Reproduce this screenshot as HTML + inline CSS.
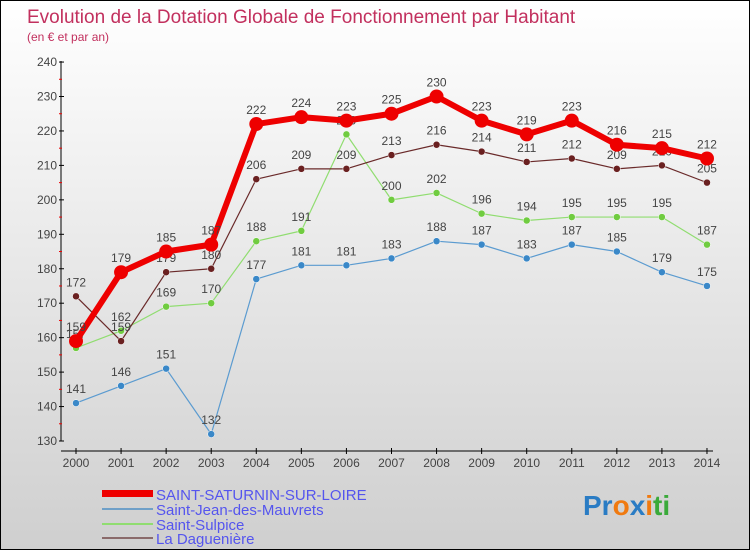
<!DOCTYPE html>
<html><head><meta charset="utf-8"><style>
html,body{margin:0;padding:0}
body{width:750px;height:550px;overflow:hidden;font-family:"Liberation Sans",sans-serif}
#wrap{position:relative;width:748px;height:548px;border:1px solid #000;background:linear-gradient(#ffffff,#cfcfcf)}
</style></head><body>
<div id="wrap">
<svg id="chart" width="748" height="548" style="position:absolute;left:0;top:0">
<text x="26" y="22" font-size="19" fill="#c2305e">Evolution de la Dotation Globale de Fonctionnement par Habitant</text>
<text x="26" y="40" font-size="12" fill="#c2305e">(en € et par an)</text>
<g id="axes"></g><g id="series"></g>
<g font-size="15" fill="#5555ee">
<rect x="101" y="489" width="51" height="7" fill="#ee0000"/>
<text x="155" y="499">SAINT-SATURNIN-SUR-LOIRE</text>
<rect x="101" y="507" width="51" height="2" fill="#6fa0c8"/>
<text x="155" y="514">Saint-Jean-des-Mauvrets</text>
<rect x="101" y="522" width="51" height="2" fill="#90dd70"/>
<text x="155" y="529">Saint-Sulpice</text>
<rect x="101" y="536" width="51" height="2" fill="#8a6a6a"/>
<text x="155" y="543">La Daguenière</text>
</g>
<g font-size="28" font-weight="bold">
<text x="582" y="514"><tspan fill="#2a7cc4">Pr</tspan><tspan fill="#f07a10">o</tspan><tspan fill="#2a7cc4">x</tspan><tspan fill="#f07a10">i</tspan><tspan fill="#3aaa3a">ti</tspan></text>
</g>
</svg>
</div>
<script>
const years=[2000,2001,2002,2003,2004,2005,2006,2007,2008,2009,2010,2011,2012,2013,2014];
const yTicks=[130,140,150,160,170,180,190,200,210,220,230,240];
const saturnin=[159,179,185,187,222,224,223,225,230,223,219,223,216,215,212];
const jean=[141,146,151,132,177,181,181,183,188,187,183,187,185,179,175];
const sulpice=[157,162,169,170,188,191,219,200,202,196,194,195,195,195,187];
const daguen=[172,159,179,180,206,209,209,213,216,214,211,212,209,210,205];
const NS="http://www.w3.org/2000/svg";
function X(i){return 75+i*45.07;}
function Y(v){return 440-(v-130)*3.445;}
function el(t,a,p){const e=document.createElementNS(NS,t);for(const k in a)e.setAttribute(k,a[k]);p.appendChild(e);return e;}
const ax=document.getElementById('axes');
const yl=el('line',{x1:60,y1:60,x2:60,y2:440,stroke:'#000','stroke-width':1},ax);


const xl=el('line',{x1:60,y1:450,x2:712,y2:450,stroke:'#000','stroke-width':1},ax);


yTicks.forEach((v,i)=>{
 el('line',{x1:58,y1:Y(v),x2:63,y2:Y(v),stroke:'#000'},ax);
 if(i<yTicks.length-1) el('line',{x1:58,y1:Y(v+5),x2:61,y2:Y(v+5),stroke:'#e00'},ax);
 const t=el('text',{x:56,y:Y(v)+4,'text-anchor':'end','font-size':12,fill:'#444'},ax);
 t.textContent=v;
 
 
});
years.forEach((y,i)=>{
 el('line',{x1:X(i),y1:447,x2:X(i),y2:453,stroke:'#000'},ax);
 const t=el('text',{x:X(i),y:466,'text-anchor':'middle','font-size':12,fill:'#444'},ax);
 t.textContent=y;
 
 
});
const sg=document.getElementById('series');
const specs=[[jean,'#5b9bd0','#3a88c8',1.2,3.5,'saint-jean'],[sulpice,'#90dd70','#70cc40',1.2,3.5,'saint-sulpice'],[daguen,'#6a2a2a','#6a2020',1.2,3.5,'la-daguieniere'],[saturnin,'#ee0000','#ee0000',6,7,'saint-saturnin']];
specs.forEach(([d,lc,pc,w,r,n])=>{
 const g=el('g',{},sg);
 
 
 const pl=el('polyline',{points:d.map((v,i)=>X(i)+','+Y(v)).join(' '),fill:'none',stroke:lc,'stroke-width':w,'stroke-linejoin':'round'},g);
 
 
 d.forEach((v,i)=>{
  const c=el('circle',{cx:X(i),cy:Y(v),r:r,fill:pc,stroke:w>2?'none':'#fff','stroke-width':0.5},g);
  
  
  const t=el('text',{x:X(i),y:Y(v)-10,'text-anchor':'middle','font-size':12,fill:'#444'},g);
  t.textContent=v;
  
  
 });
});
</script>
</body></html>
